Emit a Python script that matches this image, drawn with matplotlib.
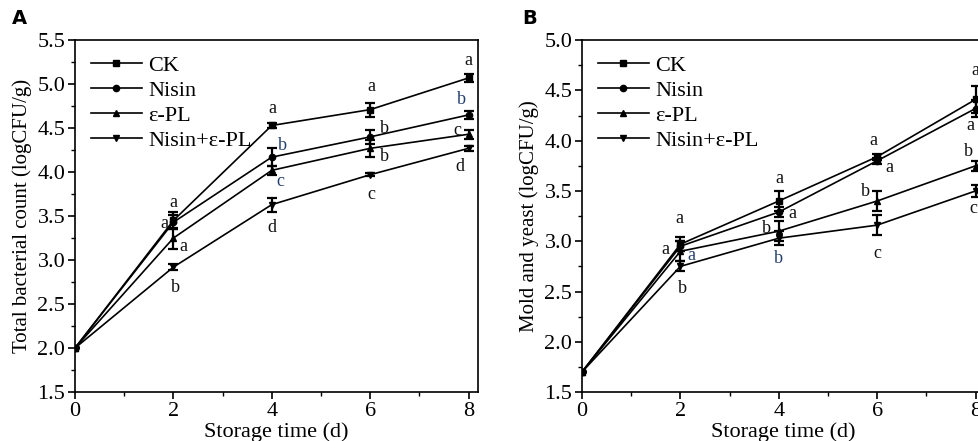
import matplotlib
matplotlib.use("Agg")
import matplotlib.pyplot as plt
from matplotlib.lines import Line2D
from matplotlib.ticker import MultipleLocator

plt.rcParams.update({
    "font.family": ["Liberation Serif", "DejaVu Serif"],
    "axes.linewidth": 1.2,
    "xtick.direction": "out",
    "ytick.direction": "out",
    "xtick.major.size": 5,
    "ytick.major.size": 5,
    "xtick.minor.size": 3,
    "ytick.minor.size": 3,
    "xtick.major.width": 1.2,
    "ytick.major.width": 1.2,
    "xtick.minor.width": 1.0,
    "ytick.minor.width": 1.0,
})

days = [0, 2, 4, 6, 8]
series = ["CK", "Nisin", "ε-PL", "Nisin+ε-PL"]
markers = ["s", "o", "^", "v"]

# Panel A: total bacterial count
tbc_ck    = [2.00, 3.45, 4.53, 4.71, 5.07]
tbc_nis   = [2.00, 3.43, 4.17, 4.40, 4.65]
tbc_pl    = [2.00, 3.25, 4.02, 4.27, 4.43]
tbc_mix   = [2.00, 2.92, 3.63, 3.97, 4.27]
tbc_err_ck  = [0.0, 0.10, 0.03, 0.08, 0.05]
tbc_err_nis = [0.0, 0.08, 0.10, 0.08, 0.05]
tbc_err_pl  = [0.0, 0.12, 0.05, 0.10, 0.05]
tbc_err_mix = [0.0, 0.03, 0.08, 0.02, 0.03]

# Panel B: mold and yeast
my_ck    = [1.70, 2.97, 3.40, 3.84, 4.41]
my_nis   = [1.70, 2.95, 3.29, 3.80, 4.32]
my_pl    = [1.70, 2.90, 3.10, 3.40, 3.75]
my_mix   = [1.70, 2.75, 3.03, 3.16, 3.50]
my_err_ck  = [0.0, 0.07, 0.10, 0.03, 0.13]
my_err_nis = [0.0, 0.05, 0.05, 0.03, 0.08]
my_err_pl  = [0.0, 0.10, 0.10, 0.10, 0.05]
my_err_mix = [0.0, 0.05, 0.07, 0.10, 0.06]

# significance letters: (x, y, text, blueish)
tbc_letters = [
    (2.0, 3.66, "a", 0), (1.82, 3.42, "a", 0), (2.2, 3.16, "a", 0), (2.05, 2.69, "b", 0),
    (4.02, 4.72, "a", 0), (4.22, 4.30, "b", 1), (4.18, 3.89, "c", 1), (4.0, 3.37, "d", 0),
    (6.02, 4.97, "a", 0), (6.3, 4.50, "b", 0), (6.3, 4.18, "b", 0), (6.02, 3.75, "c", 0),
    (8.0, 5.27, "a", 0), (7.86, 4.82, "b", 1), (7.78, 4.47, "c", 0), (7.82, 4.06, "d", 0),
]
my_letters = [
    (1.98, 3.23, "a", 0), (1.70, 2.92, "a", 0), (2.22, 2.86, "a", 1), (2.05, 2.53, "b", 0),
    (4.02, 3.62, "a", 0), (4.28, 3.28, "a", 0), (3.74, 3.13, "b", 0), (4.0, 2.83, "b", 1),
    (5.93, 4.00, "a", 0), (6.24, 3.73, "a", 0), (5.76, 3.49, "b", 0), (6.0, 2.88, "c", 0),
    (8.0, 4.70, "a", 0), (7.89, 4.15, "a", 0), (7.86, 3.89, "b", 0), (7.96, 3.33, "c", 0),
]


def draw_panel(ax, ys, errs, letters, ylim, ylabel, major):
    handles = []
    for name, m, y, e in zip(series, markers, ys, errs):
        ax.errorbar(days, y, yerr=e, color="black", marker=m, markersize=4.5,
                    linewidth=1.2, elinewidth=1.6, capsize=3.5, capthick=1.6)
        handles.append(Line2D([], [], color="black", marker=m, markersize=4.5,
                              linewidth=1.2, label=name))
    for x, y, t, blue in letters:
        ax.text(x, y, t, ha="center", va="center", fontsize=13,
                color="#24406e" if blue else "#111111")
    ax.set_xlim(0, 8.2)
    ax.set_ylim(*ylim)
    ax.set_xticks(days)
    ax.xaxis.set_minor_locator(MultipleLocator(1))
    ax.yaxis.set_major_locator(MultipleLocator(major))
    ax.yaxis.set_minor_locator(MultipleLocator(major / 2))
    ax.yaxis.set_major_formatter(plt.FormatStrFormatter("%.1f"))
    ax.tick_params(labelsize=16, pad=2)
    ax.set_xlabel("Storage time (d)", fontsize=16, labelpad=1)
    ax.set_ylabel(ylabel, fontsize=15, labelpad=4)
    ax.legend(handles=handles, loc="upper left", frameon=False, fontsize=16,
              handlelength=2.3, handletextpad=0.3, labelspacing=0.2,
              borderaxespad=0.3, bbox_to_anchor=(0.0, 1.0))


fig = plt.figure(figsize=(9.79, 4.41), dpi=100)
ax1 = fig.add_axes([0.0766, 0.111, 0.412, 0.798])
ax2 = fig.add_axes([0.5945, 0.111, 0.412, 0.798])

draw_panel(ax1, [tbc_ck, tbc_nis, tbc_pl, tbc_mix],
           [tbc_err_ck, tbc_err_nis, tbc_err_pl, tbc_err_mix],
           tbc_letters, (1.5, 5.5), "Total bacterial count (logCFU/g)", 0.5)
draw_panel(ax2, [my_ck, my_nis, my_pl, my_mix],
           [my_err_ck, my_err_nis, my_err_pl, my_err_mix],
           my_letters, (1.5, 5.0), "Mold and yeast (logCFU/g)", 0.5)

fig.text(0.012, 0.945, "A", fontsize=14, fontweight="bold", family="DejaVu Sans")
fig.text(0.533, 0.945, "B", fontsize=14, fontweight="bold", family="DejaVu Sans")

fig.savefig("out.png", dpi=100)
